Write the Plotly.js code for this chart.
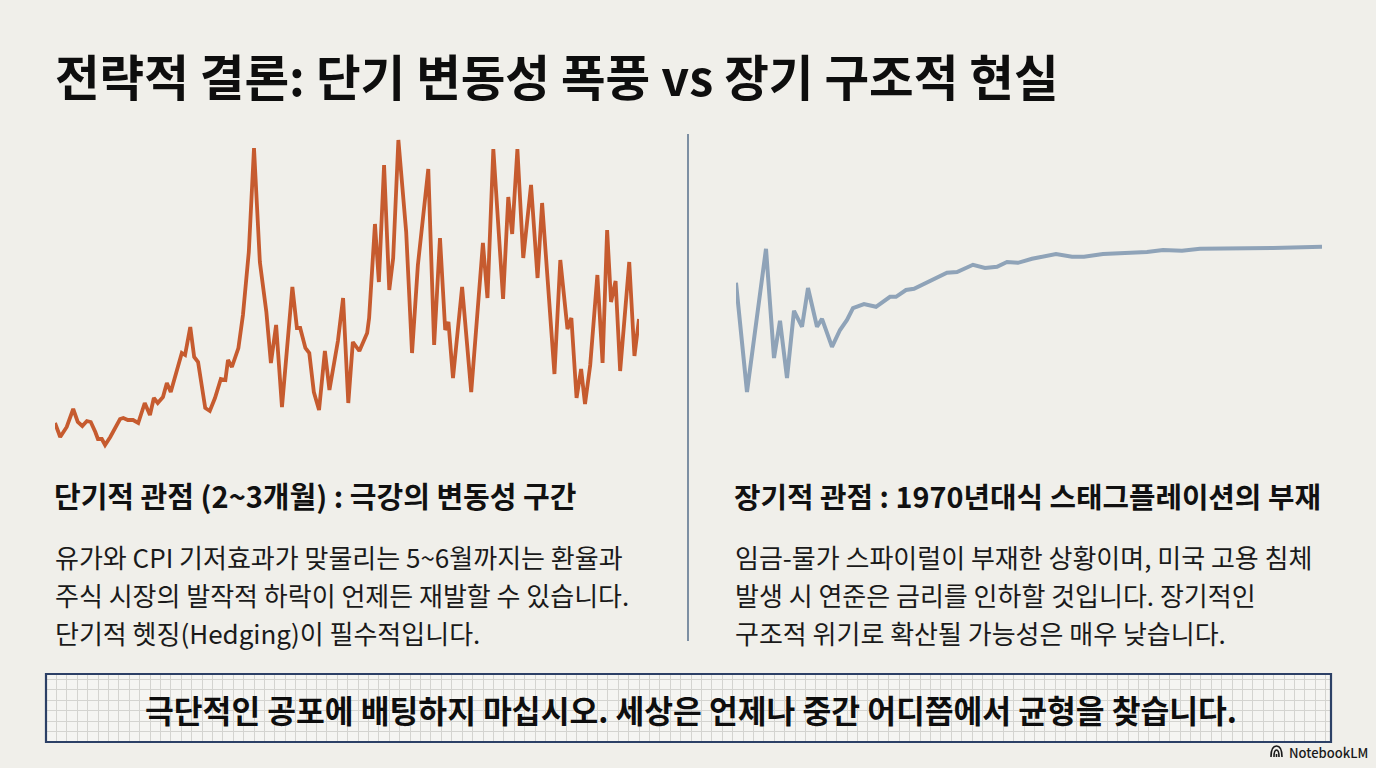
<!DOCTYPE html>
<html>
<head>
<meta charset="utf-8">
<script src="https://cdn.plot.ly/plotly-3.0.1.min.js"></script>
<style>
  html, body { margin: 0; padding: 0; background: #F0EFEA; }
  #chart { width: 1376px; height: 768px; }
</style>
</head>
<body>
<div id="chart"></div>
<script>
// ---- Data ----
// Short-term view: volatility index over ~3 months (day, value)
const shortDays = [0.0,0.8,1.8,2.8,3.5,4.2,4.9,5.5,6.2,6.6,7.2,7.7,8.5,9.2,10.0,10.5,11.2,12.0,12.8,13.8,14.6,15.2,15.8,16.6,17.2,17.8,18.6,19.5,20.0,20.8,21.4,22.0,23.1,23.8,24.6,25.5,26.2,26.6,27.2,28.2,28.9,29.8,30.6,31.5,32.5,33.2,34.0,34.9,36.5,37.2,37.7,38.5,39.1,39.8,40.6,41.5,42.2,42.9,43.5,44.3,45.1,45.8,46.3,46.8,48.0,48.3,49.2,49.8,50.6,51.4,52.0,52.8,54.0,54.9,55.8,57.4,58.3,59.2,60.0,60.5,61.2,62.6,64.0,65.8,66.5,67.4,68.9,69.7,70.3,71.1,72.0,73.2,74.2,74.9,76.8,77.7,78.8,79.4,80.2,80.9,81.5,82.3,83.4,84.2,84.9,85.5,86.2,86.9,88.3,89.1,89.8];
const shortValues = [13.7,12.3,13.3,15.1,13.8,13.4,13.9,13.8,12.8,12.1,12.1,11.5,12.3,13.2,14.1,14.2,14.0,14.0,13.7,15.7,14.5,16.2,15.7,16.3,17.7,16.8,18.7,20.7,20.5,23.3,20.3,19.8,15.2,14.9,16.2,18.1,18.0,20.0,19.3,21.2,24.5,30.8,41.2,29.8,24.8,19.7,23.5,15.3,27.3,23.2,23.2,21.2,20.7,16.8,15.0,20.9,17.0,19.8,21.9,26.2,15.7,21.8,21.4,20.9,22.7,24.2,33.6,27.8,39.5,27.0,30.2,42.0,32.8,20.7,29.5,39.1,21.5,32.2,23.0,23.8,18.2,27.3,16.8,31.7,26.2,41.1,26.1,36.3,32.6,41.1,30.2,37.5,28.2,35.7,18.6,30.0,23.1,24.2,16.2,19.1,15.6,19.5,28.5,19.7,33.0,25.8,27.9,18.9,29.8,20.4,24.1];

// Long-term view: structural trend (period, value)
const longPeriods = [0.0,1.1,3.0,3.8,4.4,5.1,5.8,6.6,7.2,8.1,8.6,9.6,10.4,11.1,11.7,12.8,14.0,15.4,16.0,17.0,17.8,19.0,19.9,21.1,22.1,23.7,24.9,26.1,27.1,28.2,29.6,30.8,32.0,33.6,34.8,36.7,38.7,41.1,42.7,44.6,46.4,49.8,53.7,58.6];
const longValues = [3.68,0.95,4.53,1.80,2.73,1.30,2.98,2.58,3.55,2.58,2.78,2.08,2.50,2.75,3.05,3.15,3.08,3.33,3.33,3.50,3.53,3.68,3.80,3.93,3.95,4.13,4.05,4.08,4.20,4.18,4.28,4.33,4.40,4.33,4.33,4.40,4.43,4.45,4.50,4.48,4.53,4.53,4.55,4.58];

// ---- Texts ----
const mainTitle = "전략적 결론: 단기 변동성 폭풍 vs 장기 구조적 현실";
const leftHeading = "단기적 관점 (2~3개월) : 극강의 변동성 구간";
const leftBody = [
  "유가와 CPI 기저효과가 맞물리는 5~6월까지는 환율과",
  "주식 시장의 발작적 하락이 언제든 재발할 수 있습니다.",
  "단기적 헷징(Hedging)이 필수적입니다."
];
const rightHeading = "장기적 관점 : 1970년대식 스태그플레이션의 부재";
const rightBody = [
  "임금-물가 스파이럴이 부재한 상황이며, 미국 고용 침체",
  "발생 시 연준은 금리를 인하할 것입니다. 장기적인",
  "구조적 위기로 확산될 가능성은 매우 낮습니다."
];
const bottomMessage = "극단적인 공포에 배팅하지 마십시오. 세상은 언제나 중간 어디쯤에서 균형을 찾습니다.";
const brand = "NotebookLM";

// ---- Layout helpers ----
const W = 1376, H = 768;
const fx = x => x / W;
const fy = y => 1 - y / H;
const FONT = "'Noto Sans CJK KR', 'Noto Sans', sans-serif";
const BG = "#F0EFEA";

const hiddenAxis = {
  showgrid: false, zeroline: false, showline: false, showticklabels: false, ticks: "", fixedrange: true
};

const traces = [
  {
    x: shortDays, y: shortValues, type: "scatter", mode: "lines",
    line: { color: "#C65B2F", width: 3.8, shape: "linear" },
    xaxis: "x", yaxis: "y", hoverinfo: "skip"
  },
  {
    x: longPeriods, y: longValues, type: "scatter", mode: "lines",
    line: { color: "#8FA3B8", width: 4, shape: "linear" },
    xaxis: "x2", yaxis: "y2", hoverinfo: "skip"
  },
  {
    x: [], y: [], type: "scatter", mode: "lines",
    xaxis: "x3", yaxis: "y3", hoverinfo: "skip"
  }
];

const annotations = [];
function addText(text, x, y, size, weight, color, xanchor) {
  annotations.push({
    text: text, xref: "paper", yref: "paper",
    x: fx(x), y: fy(y), xanchor: xanchor || "left", yanchor: "middle",
    showarrow: false, align: "left",
    font: { family: FONT, size: size, color: color || "#111111", weight: weight || 400 }
  });
}
addText(mainTitle, 53, 75, 48.5, 700, "#0E0E0E");
addText(leftHeading, 52, 495, 29, 700, "#111111");
addText(rightHeading, 732, 495, 28.8, 700, "#111111");
leftBody.forEach((t, i) => addText(t, 53, 556 + i * 38, 26, 400, "#1A1A1A"));
rightBody.forEach((t, i) => addText(t, 733, 556 + i * 38, 26, 400, "#1A1A1A"));
addText(bottomMessage, 691, 709, 31.3, 700, "#0E0E0E", "center");
addText(brand, 1370, 752, 13, 500, "#1A1A1A", "right");

const shapes = [
  // divider
  { type: "line", xref: "paper", yref: "paper", x0: fx(688), x1: fx(688), y0: fy(134), y1: fy(641),
    line: { color: "#7D8FA3", width: 2 } },
  // bottom box fill (below gridlines)
  { type: "rect", xref: "paper", yref: "paper", x0: fx(46), x1: fx(1331), y0: fy(674), y1: fy(742),
    fillcolor: "#F5F5F2", line: { width: 0 }, layer: "below" },
  // bottom box border
  { type: "rect", xref: "paper", yref: "paper", x0: fx(46), x1: fx(1331), y0: fy(674), y1: fy(742),
    fillcolor: "rgba(0,0,0,0)", line: { color: "#2C4066", width: 2.2 }, layer: "above" },
  // brand icon
  { type: "path", xref: "paper", yref: "paper",
    path: `M ${fx(1271)},${fy(757)} Q ${fx(1271)},${fy(746)} ${fx(1276.5)},${fy(746)} Q ${fx(1282)},${fy(746)} ${fx(1282)},${fy(757)} M ${fx(1274)},${fy(757)} Q ${fx(1274)},${fy(750)} ${fx(1276.5)},${fy(750)} Q ${fx(1279)},${fy(750)} ${fx(1279)},${fy(757)} M ${fx(1276.5)},${fy(757)} L ${fx(1276.5)},${fy(754)}`,
    line: { color: "#1A1A1A", width: 1.6 }, layer: "above" }
];

const layout = {
  width: W, height: H,
  margin: { l: 0, r: 0, t: 0, b: 0, pad: 0 },
  paper_bgcolor: BG, plot_bgcolor: "rgba(0,0,0,0)",
  showlegend: false, hovermode: false,
  xaxis: Object.assign({}, hiddenAxis, { domain: [fx(55), fx(639)], range: [0, 89.8], anchor: "y" }),
  yaxis: Object.assign({}, hiddenAxis, { domain: [fy(460), fy(130)], range: [10, 43], anchor: "x" }),
  xaxis2: Object.assign({}, hiddenAxis, { domain: [fx(736), fx(1322)], range: [0, 58.6], anchor: "y2" }),
  yaxis2: Object.assign({}, hiddenAxis, { domain: [fy(400), fy(240)], range: [0.75, 4.75], anchor: "x2" }),
  xaxis3: Object.assign({}, hiddenAxis, { domain: [fx(46), fx(1331)], range: [0, 123.5], anchor: "y3",
    showgrid: true, dtick: 1, tick0: 0, gridcolor: "#D4D4D0", gridwidth: 1 }),
  yaxis3: Object.assign({}, hiddenAxis, { domain: [fy(742), fy(674)], range: [0, 6.5], anchor: "x3",
    showgrid: true, dtick: 1, tick0: 0, gridcolor: "#D4D4D0", gridwidth: 1 }),
  annotations: annotations,
  shapes: shapes
};

Plotly.newPlot("chart", traces, layout, { staticPlot: true, displayModeBar: false });
</script>
</body>
</html>
